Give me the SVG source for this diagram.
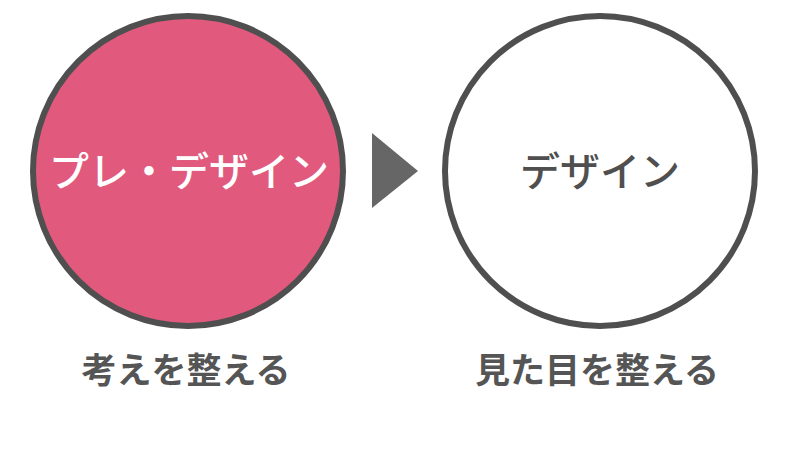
<svg xmlns="http://www.w3.org/2000/svg" width="788" height="451" viewBox="0 0 788 451">
<style>
.ring{stroke:#4f4f4f;stroke-width:6}
.t{font-family:"Noto Sans CJK JP","Noto Sans",sans-serif;text-anchor:middle}
.big{font-size:40px;font-weight:500}
.cap{font-size:35px;font-weight:700;fill:#555}
</style>
<rect width="788" height="451" fill="#ffffff"/>
<g id="node-pre-design">
<circle class="ring" cx="188" cy="171" r="155" fill="#E15A7E"/>
<text class="t big" x="189" y="186" fill="#ffffff">プレ・デザイン</text>
</g>
<g id="node-design">
<circle class="ring" cx="600" cy="171" r="155" fill="#ffffff"/>
<text class="t big" x="600" y="186" fill="#4f4f4f">デザイン</text>
</g>
<g id="connectors">
<polygon points="372,133 418,171 372,208" fill="#666666"/>
</g>
<g id="captions">
<text class="t cap" x="186" y="383">考えを整える</text>
<text class="t cap" x="597" y="383">見た目を整える</text>
</g>
</svg>
